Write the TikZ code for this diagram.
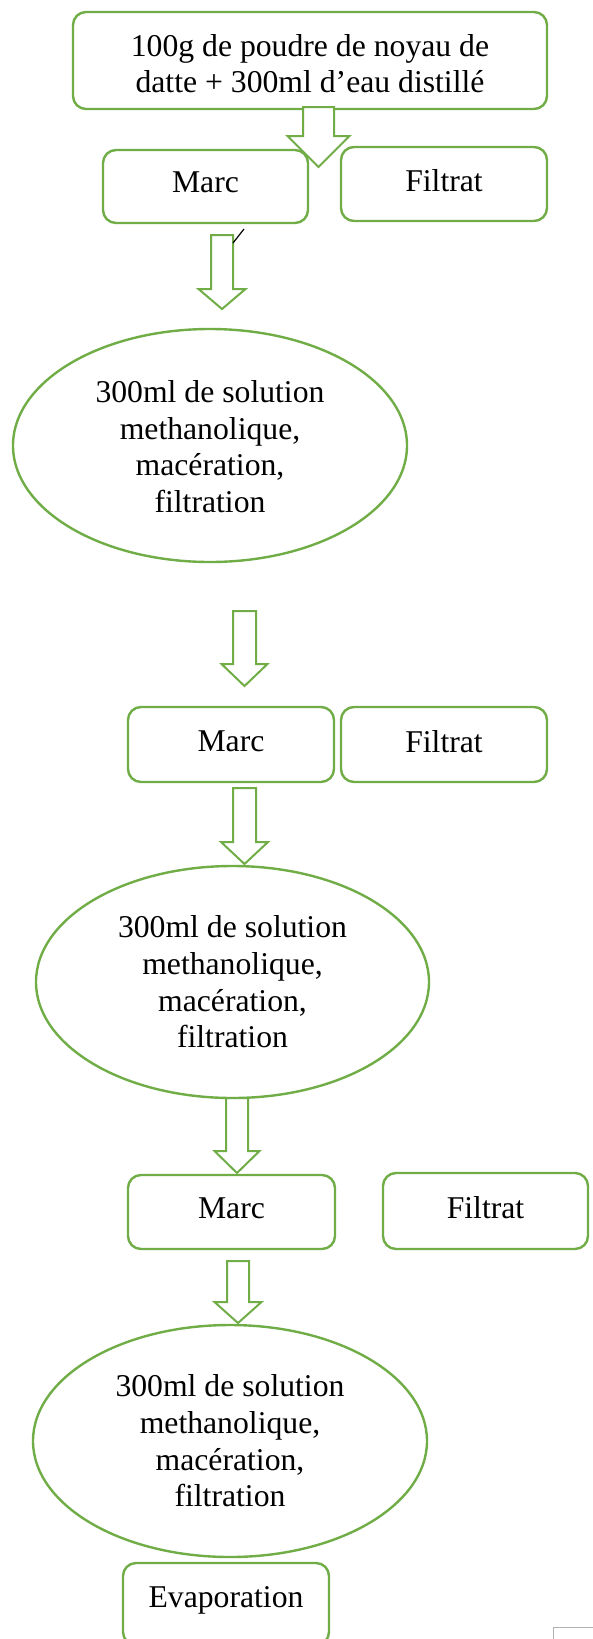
\documentclass[tikz,border=0pt]{standalone}
\usepackage{fontspec}
\setmainfont{Liberation Serif}
\usetikzlibrary{shapes.geometric}
\definecolor{grn}{RGB}{112,173,71}
\newcommand\blockarrow[5]{% #1 start coordinate, #2 head start, #3 tip, #4 shaft half width, #5 head half width
  \draw[barrow,shift={(#1)}] (-#4,0) -- (#4,0) -- (#4,#2) -- (#5,#2) -- (0,#3) -- (-#5,#2) -- (-#4,#2) -- cycle;}
\newcommand\dpt[1]{\rule[-#1]{0pt}{#1}}
\begin{document}
\begin{tikzpicture}[x=1pt,y=-1pt,
  box/.style={draw=grn, line width=2.4pt, rounded corners=13pt, fill=white, inner sep=0pt,
    align=center, font=\fontsize{31.7}{35.7}\selectfont},
  oval/.style={ellipse, draw=grn, line width=2.4pt, fill=white, inner sep=0pt,
    align=center, font=\fontsize{31.7}{36.7}\selectfont},
  barrow/.style={draw=grn, line width=2pt, fill=white, line join=miter}]
\useasboundingbox (0,0) rectangle (593,1639);
\clip (0,0) rectangle (593,1639);

\node[box, minimum width=474pt, minimum height=97pt] (top) at (310,60.5)
  {\rule{0pt}{28.3pt}100g de poudre de noyau de\\datte + 300ml d’eau distillé};
\node[box, minimum width=205pt, minimum height=73pt] (marc1) at (205.5,186.5) {Marc\dpt{8pt}};
\node[box, minimum width=206pt, minimum height=74pt] (filt1) at (444,184) {Filtrat\dpt{8pt}};
\node[oval, minimum width=394pt, minimum height=233pt] (ov1) at (210,445.5)
  {\rule{0pt}{24pt}300ml de solution\\methanolique,\\macération,\\filtration};
\node[box, minimum width=206pt, minimum height=75pt] (marc2) at (231,744.5) {Marc\dpt{7pt}};
\node[box, minimum width=206pt, minimum height=75pt] (filt2) at (444,744.5) {Filtrat\dpt{7pt}};
\node[oval, minimum width=393pt, minimum height=232pt] (ov2) at (232.5,982)
  {300ml de solution\\methanolique,\\macération,\\filtration};
\node[box, minimum width=207pt, minimum height=74pt] (marc3) at (231.5,1212) {Marc\dpt{8pt}};
\node[box, minimum width=205pt, minimum height=76pt] (filt3) at (485.5,1211) {Filtrat\dpt{8pt}};
\node[oval, minimum width=394pt, minimum height=232pt] (ov3) at (230,1441)
  {300ml de solution\\methanolique,\\macération,\\filtration};
\node[box, minimum width=206pt, minimum height=82pt] (evap) at (226,1604)
  {Evaporation\dpt{13.5pt}};

\coordinate (a1) at (318.5,107);
\coordinate (a2) at (222,235);
\coordinate (a3) at (244.5,611);
\coordinate (a4) at (244.5,788);
\coordinate (a5) at (237,1098);
\coordinate (a6) at (238,1261);
\blockarrow{a1}{29}{60}{15.5}{31}
\blockarrow{a2}{54}{74}{11}{23.5}
\blockarrow{a3}{53}{75}{11.5}{23}
\blockarrow{a4}{54}{76}{11.5}{23.5}
\blockarrow{a5}{53}{75}{11}{22.5}
\blockarrow{a6}{41}{62}{11}{23.5}

\coordinate (s1) at (233,243);
\coordinate (s2) at (244,229);
\draw[black, line width=1.2pt] (s1) -- (s2);

\draw[black!30, line width=0.8pt] (553,1627) rectangle (640,1680);
\end{tikzpicture}
\end{document}
